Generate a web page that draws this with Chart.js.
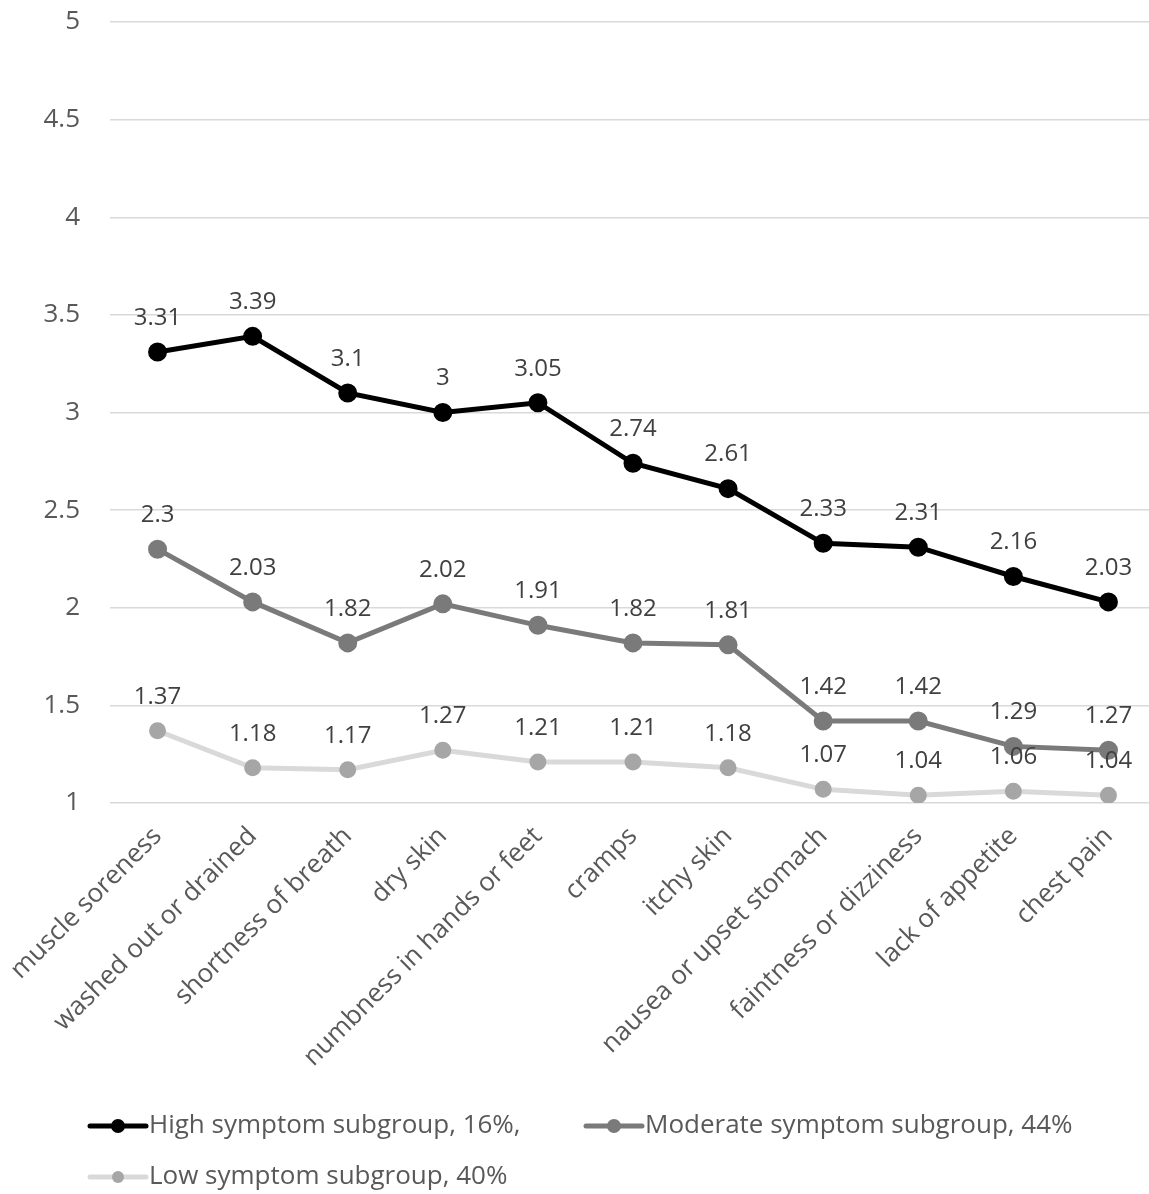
<!DOCTYPE html>
<html>
<head>
<meta charset="utf-8">
<script src="https://cdn.jsdelivr.net/npm/chart.js@4.4.1/dist/chart.umd.min.js"></script>
<style>
  html, body { margin: 0; padding: 0; background: #fff; overflow: hidden; }
  #wrap { width: 1168px; height: 1194px; position: relative; }
</style>
</head>
<body>
<div id="wrap"><canvas id="c"></canvas></div>
<script>
// Symptom categories along the x axis
const categories = [
  'muscle soreness', 'washed out or drained', 'shortness of breath', 'dry skin',
  'numbness in hands or feet', 'cramps', 'itchy skin', 'nausea or upset stomach',
  'faintness or dizziness', 'lack of appetite', 'chest pain'
];

// Mean symptom scores per subgroup
const highValues     = [3.31, 3.39, 3.1, 3, 3.05, 2.74, 2.61, 2.33, 2.31, 2.16, 2.03];
const moderateValues = [2.3, 2.03, 1.82, 2.02, 1.91, 1.82, 1.81, 1.42, 1.42, 1.29, 1.27];
const lowValues      = [1.37, 1.18, 1.17, 1.27, 1.21, 1.21, 1.18, 1.07, 1.04, 1.06, 1.04];

const seriesNames = [
  'High symptom subgroup, 16%,',
  'Moderate symptom subgroup, 44%',
  'Low symptom subgroup, 40%'
];

// Y axis range and tick step
const yMin = 1, yMax = 5, yStep = 0.5;

const FONT = '"Open Sans", sans-serif';
const TEXT = '#595959';

// Value labels printed above every point
const valueLabels = {
  id: 'valueLabels',
  afterDatasetsDraw(chart) {
    const ctx = chart.ctx;
    ctx.save();
    ctx.font = '24px ' + FONT;
    ctx.fillStyle = '#404040';
    ctx.textAlign = 'center';
    ctx.textBaseline = 'middle';
    chart.data.datasets.forEach((ds, i) => {
      chart.getDatasetMeta(i).data.forEach((pt, j) => {
        ctx.fillText(String(ds.data[j]), pt.x, pt.y - 34);
      });
    });
    ctx.restore();
  }
};

// Legend with a line-and-marker sample for each series
const lineLegend = {
  id: 'lineLegend',
  afterDraw(chart) {
    const ctx = chart.ctx;
    const slots = [
      { x: 90, y: 1126 },
      { x: 586, y: 1126 },
      { x: 90, y: 1177 }
    ];
    ctx.save();
    ctx.font = '26px ' + FONT;
    ctx.textBaseline = 'middle';
    ctx.textAlign = 'left';
    chart.data.datasets.forEach((ds, i) => {
      const s = slots[i];
      ctx.strokeStyle = ds.borderColor;
      ctx.lineWidth = ds.borderWidth;
      ctx.lineCap = 'round';
      ctx.beginPath();
      ctx.moveTo(s.x, s.y);
      ctx.lineTo(s.x + 56, s.y);
      ctx.stroke();
      ctx.fillStyle = ds.pointBackgroundColor;
      ctx.beginPath();
      ctx.arc(s.x + 28, s.y, ds.pointRadius, 0, Math.PI * 2);
      ctx.fill();
      ctx.fillStyle = TEXT;
      ctx.fillText(ds.label, s.x + 59, s.y);
    });
    ctx.restore();
  }
};

function series(label, data, line, point, width, radius) {
  return {
    label, data,
    borderColor: line, backgroundColor: point,
    pointBackgroundColor: point, pointBorderColor: point,
    borderWidth: width, pointRadius: radius, pointHoverRadius: radius,
    tension: 0, fill: false
  };
}

new Chart(document.getElementById('c'), {
  type: 'line',
  data: {
    labels: categories,
    datasets: [
      series(seriesNames[0], highValues, '#000000', '#000000', 5, 7),
      series(seriesNames[1], moderateValues, '#7a7a7a', '#7a7a7a', 5, 7),
      series(seriesNames[2], lowValues, '#d9d9d9', '#a6a6a6', 5, 6)
    ]
  },
  options: {
    responsive: true,
    maintainAspectRatio: false,
    animation: false,
    layout: { padding: { top: 22, right: 0, bottom: 0, left: 0 } },
    plugins: { legend: { display: false }, tooltip: { enabled: false } },
    scales: {
      x: {
        offset: true,
        grid: { display: false, drawTicks: false },
        border: { display: false },
        ticks: {
          color: TEXT, font: { family: FONT, size: 26 },
          maxRotation: 45, minRotation: 45, autoSkip: false, padding: 18
        },
        afterFit(scale) {
          scale.height = 1194 - 803;
          // rotated labels fit inside the y axis column already
          scale.paddingLeft = 0;
          scale.paddingRight = 0;
        }
      },
      y: {
        min: yMin, max: yMax,
        grid: { color: '#d9d9d9', lineWidth: 1.5, drawTicks: false },
        border: { display: false },
        ticks: {
          stepSize: yStep, color: TEXT, font: { family: FONT, size: 26 },
          padding: 30,
          callback: (v) => String(v)
        },
        afterFit(scale) {
          scale.width = 110;
          // keep the top tick flush with the layout padding
          scale.paddingTop = 0;
          scale.paddingBottom = 0;
        }
      }
    }
  },
  plugins: [valueLabels, lineLegend]
});
</script>
</body>
</html>
